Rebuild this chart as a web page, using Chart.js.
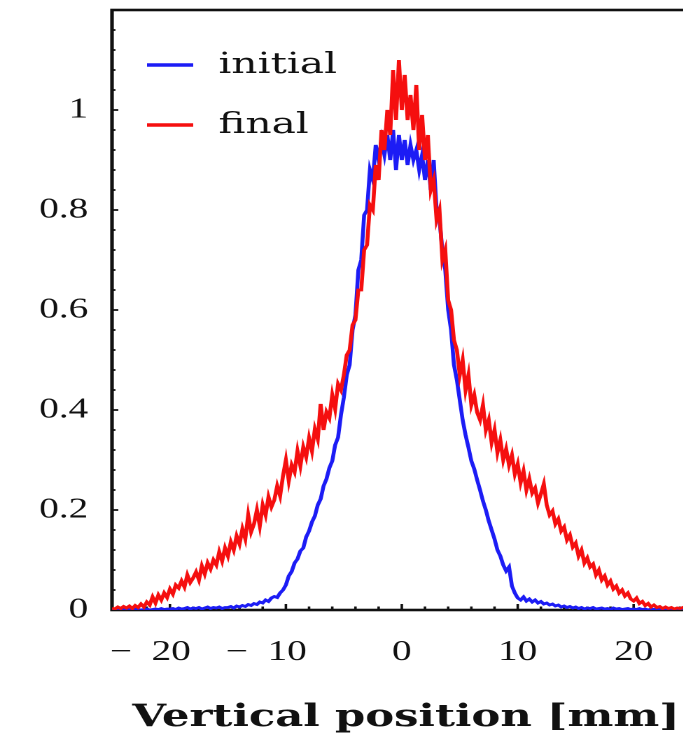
<!DOCTYPE html>
<html>
<head>
<meta charset="utf-8">
<script src="https://cdn.jsdelivr.net/npm/chart.js@4.4.1/dist/chart.umd.min.js"></script>
<title>Vertical profile</title>
<style>
  html, body { margin: 0; padding: 0; overflow: hidden; background: #fff; }
  /* the figure is drawn narrow and stretched sideways */
  #wrap { width: 500px; height: 735px; transform: scaleX(1.4); transform-origin: 0 0; }
</style>
</head>
<body>
<div id="wrap"><canvas id="chart" width="500" height="735"></canvas></div>
<script>
// histogram bins, 0.25 mm wide, first bin at -25 mm
const binStart = -25;
const binWidth = 0.25;

const initialProfile = [
  0, 0.001, 0, 0.002, 0, 0.001, 0.001, 0, 0.002, 0.001, 0, 0.001, 0.002, 0, 0.001, 0.002, 0.001, 0.003, 0.001, 0.002,
  0.002, 0.003, 0.001, 0.004, 0.002, 0.003, 0.005, 0.002, 0.004, 0.003, 0.005, 0.002, 0.004, 0.006, 0.003, 0.005, 0.004, 0.006, 0.003, 0.005,
  0.005, 0.007, 0.004, 0.008, 0.006, 0.009, 0.007, 0.011, 0.009, 0.013, 0.011, 0.016, 0.014, 0.02, 0.017, 0.024, 0.027, 0.025, 0.034, 0.04,
  0.05, 0.068, 0.077, 0.094, 0.102, 0.118, 0.124, 0.146, 0.158, 0.176, 0.188, 0.21, 0.222, 0.248, 0.262, 0.284, 0.298, 0.33, 0.345, 0.39,
  0.425, 0.47, 0.49, 0.56, 0.59, 0.68, 0.7, 0.79, 0.8, 0.88, 0.86, 0.93, 0.9, 0.94, 0.91, 0.95, 0.9, 0.96, 0.88, 0.95,
  0.9, 0.94, 0.89, 0.93, 0.9, 0.92, 0.88, 0.91, 0.86, 0.9, 0.84, 0.9, 0.8, 0.78, 0.72, 0.68, 0.6, 0.56, 0.49, 0.46,
  0.42, 0.38, 0.35, 0.325, 0.298, 0.282, 0.26, 0.24, 0.218, 0.2, 0.178, 0.16, 0.142, 0.12, 0.108, 0.09, 0.078, 0.086, 0.048, 0.034,
  0.024, 0.02, 0.026, 0.018, 0.022, 0.016, 0.02, 0.014, 0.017, 0.012, 0.014, 0.01, 0.012, 0.008, 0.01, 0.006, 0.008, 0.005, 0.007, 0.004,
  0.006, 0.003, 0.005, 0.002, 0.004, 0.003, 0.005, 0.002, 0.003, 0.004, 0.002, 0.003, 0.001, 0.004, 0.002, 0.003, 0.001, 0.002, 0.003, 0.001,
  0.002, 0.001, 0.003, 0.001, 0.002, 0, 0.002, 0.001, 0.003, 0.001, 0, 0.002, 0.001, 0.002, 0, 0.001, 0.002, 0, 0.001, 0.002,
  0.001
];

const finalProfile = [
  0.004, 0.002, 0.006, 0.003, 0.007, 0.004, 0.008, 0.003, 0.009, 0.005, 0.012, 0.006, 0.016, 0.01, 0.026, 0.014, 0.03, 0.02, 0.034, 0.025,
  0.042, 0.032, 0.05, 0.044, 0.058, 0.046, 0.07, 0.055, 0.064, 0.076, 0.06, 0.088, 0.072, 0.094, 0.082, 0.1, 0.09, 0.116, 0.098, 0.124,
  0.108, 0.136, 0.12, 0.148, 0.132, 0.162, 0.142, 0.19, 0.156, 0.172, 0.2, 0.168, 0.21, 0.19, 0.226, 0.206, 0.22, 0.248, 0.228, 0.268,
  0.3, 0.258, 0.29, 0.276, 0.318, 0.288, 0.326, 0.306, 0.344, 0.318, 0.362, 0.342, 0.412, 0.36, 0.396, 0.384, 0.43, 0.402, 0.452, 0.44,
  0.47, 0.51, 0.52, 0.57, 0.58, 0.64, 0.64, 0.72, 0.73, 0.81, 0.8, 0.89, 0.86, 0.96, 0.92, 1.0, 0.95, 1.08, 0.98, 1.1,
  1.0, 1.07, 0.98, 1.03, 0.96, 1.05, 0.92, 0.99, 0.9, 0.95, 0.84, 0.86, 0.78, 0.8, 0.7, 0.72, 0.62, 0.6, 0.54, 0.52,
  0.47, 0.5, 0.44, 0.47, 0.41, 0.43, 0.395, 0.38, 0.41, 0.36, 0.38, 0.335, 0.36, 0.315, 0.34, 0.3, 0.322, 0.29, 0.31, 0.272,
  0.292, 0.255, 0.278, 0.24, 0.262, 0.234, 0.244, 0.214, 0.232, 0.252, 0.21, 0.19, 0.198, 0.172, 0.182, 0.158, 0.166, 0.14, 0.15, 0.126,
  0.134, 0.108, 0.12, 0.094, 0.104, 0.086, 0.092, 0.07, 0.08, 0.06, 0.068, 0.05, 0.058, 0.042, 0.048, 0.034, 0.04, 0.028, 0.034, 0.022,
  0.018, 0.024, 0.013, 0.017, 0.009, 0.013, 0.006, 0.01, 0.005, 0.007, 0.003, 0.006, 0.003, 0.005, 0.002, 0.004, 0.003, 0.005, 0.002, 0.004,
  0.003
];

const seriesNames = ['initial', 'final'];
const seriesColors = ['#1c1cf5', '#f50f0f'];
const xTicks = [-20, -10, 0, 10, 20];
const yTicks = [0, 0.2, 0.4, 0.6, 0.8, 1];
const xTitle = 'Vertical position [mm]';

function toPoints(values) {
  return values.map((v, i) => ({ x: binStart + i * binWidth, y: v }));
}

// box around the plot with inward major/minor ticks
const framePlugin = {
  id: 'frame',
  beforeDatasetsDraw(chart) {
    const { ctx, chartArea: a, scales: { x, y } } = chart;
    ctx.save();
    ctx.strokeStyle = '#111';
    ctx.lineWidth = 2.6;
    ctx.strokeRect(a.left, a.top, a.right - a.left, a.bottom - a.top);
    ctx.lineWidth = 1.8;
    ctx.beginPath();
    for (let v = -24; v <= 24; v += 2) {
      const px = x.getPixelForValue(v);
      const len = xTicks.includes(v) ? 6 : 3.5;
      ctx.moveTo(px, a.bottom);
      ctx.lineTo(px, a.bottom - len);
    }
    for (let k = 0; k <= 30; k++) {
      const v = k * 0.04;
      const py = y.getPixelForValue(v);
      const len = k % 5 === 0 ? 4.5 : 2.5;
      ctx.moveTo(a.left, py);
      ctx.lineTo(a.left + len, py);
    }
    ctx.stroke();
    ctx.restore();
  }
};

// legend inside the frame and the axis title
const textPlugin = {
  id: 'texts',
  afterDraw(chart) {
    const { ctx } = chart;
    ctx.save();
    ctx.fillStyle = '#111';
    ctx.font = '29px "DejaVu Serif"';
    ctx.textBaseline = 'alphabetic';
    chart.data.datasets.forEach((ds, i) => {
      const base = 73 + i * 60;
      ctx.strokeStyle = ds.borderColor;
      ctx.lineWidth = 3.5;
      ctx.beginPath();
      ctx.moveTo(105, base - 8);
      ctx.lineTo(138, base - 8);
      ctx.stroke();
      ctx.fillText(ds.label, 156, base);
    });

    ctx.font = 'bold 31px "DejaVu Serif"';
    const w = ctx.measureText(xTitle).width;
    ctx.translate(290, 726);
    ctx.scale(391 / w, 1);
    ctx.textAlign = 'center';
    ctx.fillText(xTitle, 0, 0);
    ctx.restore();
  }
};

const tickFont = { family: 'Liberation Serif', size: 28 };

new Chart(document.getElementById('chart'), {
  type: 'line',
  data: {
    datasets: [
      { label: seriesNames[0], data: toPoints(initialProfile), borderColor: seriesColors[0],
        borderWidth: 2.8, pointRadius: 0, tension: 0, order: 2 },
      { label: seriesNames[1], data: toPoints(finalProfile), borderColor: seriesColors[1],
        borderWidth: 2.8, pointRadius: 0, tension: 0, order: 1 }
    ]
  },
  options: {
    responsive: false,
    animation: false,
    devicePixelRatio: 2,
    layout: { padding: { top: 10, right: 6, left: 0, bottom: 0 } },
    plugins: { legend: { display: false }, tooltip: { enabled: false } },
    scales: {
      x: {
        type: 'linear', min: -25, max: 25,
        afterBuildTicks: s => { s.ticks = xTicks.map(v => ({ value: v })); },
        afterFit: s => { s.height = 125; s.paddingLeft = 0; s.paddingRight = 0; },
        grid: { display: false, drawTicks: false },
        border: { display: false },
        ticks: {
          padding: 26, maxRotation: 0, autoSkip: false, color: '#111', font: tickFont,
          // digits stay centred under the tick, the minus hangs to the left
          callback: v => v < 0 ? '\u2212\u2002' + Math.abs(v) + '\u2002\u2002' : String(v)
        }
      },
      y: {
        min: 0, max: 1.2,
        afterBuildTicks: s => { s.ticks = yTicks.map(v => ({ value: v })); },
        afterFit: s => { s.width = 80; s.paddingTop = 0; s.paddingBottom = 0; },
        grid: { display: false, drawTicks: false },
        border: { display: false },
        ticks: { padding: 17, color: '#111', font: tickFont, callback: v => String(v) }
      }
    }
  },
  plugins: [framePlugin, textPlugin]
});
</script>
</body>
</html>
